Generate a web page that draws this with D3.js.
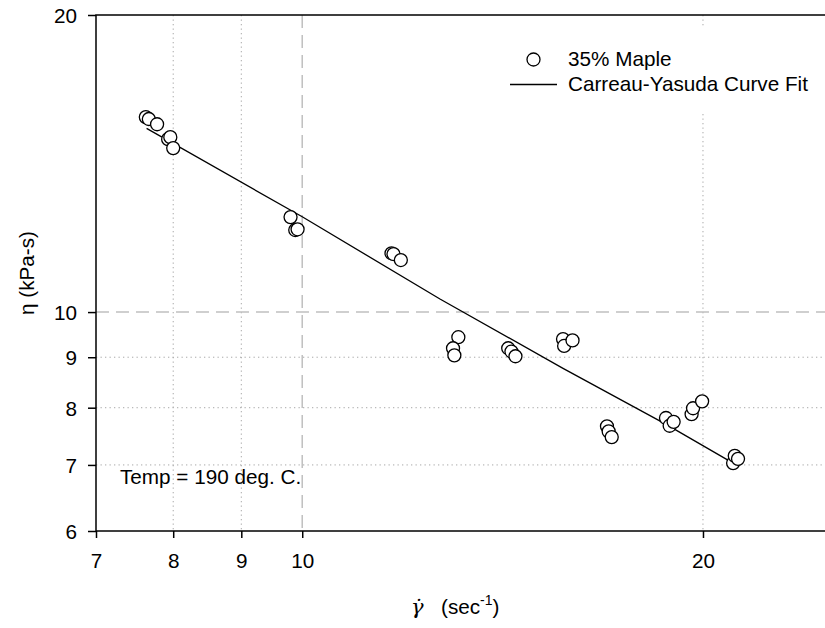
<!DOCTYPE html>
<html>
<head>
<meta charset="utf-8">
<script src="https://cdn.jsdelivr.net/npm/d3@7"></script>
<style>
  body { margin: 0; background: #fff; }
  svg { display: block; font-family: "Liberation Sans", Arial, sans-serif; }
</style>
</head>
<body>
<svg id="chart" width="825" height="628"></svg>
<script>
// measured points, 35% maple at 190 C
var shearRate = [7.63, 7.67, 7.78, 7.93, 7.96, 8.00,
  9.80, 9.88, 9.92,
  11.67, 11.71, 11.86,
  13.10, 12.98, 13.01,
  14.28, 14.36, 14.46,
  15.70, 15.73, 15.96,
  16.94, 16.99, 17.08,
  18.76, 18.88, 19.01,
  19.61, 19.66, 19.97,
  21.07, 21.13, 21.25];
var viscosity = [15.76, 15.69, 15.50, 14.97, 15.04, 14.66,
  12.48, 12.11, 12.13,
  11.47, 11.45, 11.29,
  9.43, 9.19, 9.04,
  9.19, 9.12, 9.02,
  9.39, 9.24, 9.36,
  7.66, 7.57, 7.47,
  7.81, 7.67, 7.74,
  7.88, 7.99, 8.12,
  7.03, 7.15, 7.10];

// Carreau-Yasuda fit
var fitRate = [7.64, 10.0, 12.69, 15.70, 18.78, 21.07];
var fitVisc = [15.35, 12.49, 10.31, 8.77, 7.69, 7.03];

var xTicks = [7, 8, 9, 10, 20];
var yTicks = [6, 7, 8, 9, 10, 20];
var xDotted = [8, 9, 20];
var yDotted = [7, 8, 9];

var legendLabels = ["35% Maple", "Carreau-Yasuda Curve Fit"];
var note = "Temp = 190 deg. C.";

var FS = 20.7;
var m = {left: 96, top: 15, right: 832, bottom: 531};
var svg = d3.select("#chart");

var x = d3.scaleLog().domain([7, 25]).range([m.left, m.right]);
var y = d3.scaleLog().domain([6, 20]).range([m.bottom, m.top]);

// grid
var grid = svg.append("g");
grid.selectAll(".gx").data(xDotted).enter().append("line")
  .attr("x1", d => x(d)).attr("x2", d => x(d)).attr("y1", m.top).attr("y2", m.bottom)
  .attr("stroke", "#a8a8a8").attr("stroke-width", 1).attr("stroke-dasharray", "1.3,3.2");
grid.selectAll(".gy").data(yDotted).enter().append("line")
  .attr("y1", d => y(d)).attr("y2", d => y(d)).attr("x1", m.left).attr("x2", m.right)
  .attr("stroke", "#a8a8a8").attr("stroke-width", 1).attr("stroke-dasharray", "1.3,3.2");
grid.append("line")
  .attr("x1", x(10)).attr("x2", x(10)).attr("y1", m.top).attr("y2", m.bottom)
  .attr("stroke", "#c0c0c0").attr("stroke-width", 1.5).attr("stroke-dasharray", "13,7");
grid.append("line")
  .attr("y1", y(10)).attr("y2", y(10)).attr("x1", m.left).attr("x2", m.right)
  .attr("stroke", "#c0c0c0").attr("stroke-width", 1.5).attr("stroke-dasharray", "13,7");

// frame
svg.append("rect")
  .attr("x", m.left).attr("y", m.top)
  .attr("width", m.right - m.left).attr("height", m.bottom - m.top)
  .attr("fill", "none").attr("stroke", "#000").attr("stroke-width", 1.5);

// axes
var xAxis = svg.append("g").attr("transform", "translate(0," + m.bottom + ")")
  .call(d3.axisBottom(x).tickValues(xTicks).tickFormat(d3.format("d")).tickSize(7).tickSizeOuter(0));
var yAxis = svg.append("g").attr("transform", "translate(" + m.left + ",0)")
  .call(d3.axisLeft(y).tickValues(yTicks).tickFormat(d3.format("d")).tickSize(8).tickSizeOuter(0));
[xAxis, yAxis].forEach(function(a) {
  a.select(".domain").remove();
  a.selectAll("line").attr("stroke", "#000").attr("stroke-width", 1.5);
  a.selectAll("text").attr("font-family", "Liberation Sans, Arial, sans-serif")
    .attr("font-size", FS).attr("fill", "#000");
});
xAxis.selectAll("text").attr("dy", null).attr("y", 37);
yAxis.selectAll("text").attr("x", -19).attr("dy", "0.36em");

// fit curve
var line = d3.line().x(d => x(d[0])).y(d => y(d[1]));
svg.append("path")
  .datum(fitRate.map((r, i) => [r, fitVisc[i]]))
  .attr("d", line).attr("fill", "none").attr("stroke", "#000").attr("stroke-width", 1.3);

// points
svg.append("g").selectAll("circle")
  .data(shearRate.map((r, i) => [r, viscosity[i]]))
  .enter().append("circle")
  .attr("cx", d => x(d[0])).attr("cy", d => y(d[1])).attr("r", 6.5)
  .attr("fill", "#fff").attr("stroke", "#000").attr("stroke-width", 1.3);

// legend
var lg = svg.append("g");
lg.append("rect").attr("x", 500).attr("y", 28).attr("width", 315).attr("height", 85).attr("fill", "#fff");
lg.append("circle").attr("cx", 533.5).attr("cy", 59.5).attr("r", 6.5)
  .attr("fill", "#fff").attr("stroke", "#000").attr("stroke-width", 1.3);
lg.append("line").attr("x1", 510).attr("x2", 557).attr("y1", 84.5).attr("y2", 84.5)
  .attr("stroke", "#000").attr("stroke-width", 1.3);
lg.selectAll("text").data(legendLabels).enter().append("text")
  .attr("x", 568).attr("y", (d, i) => 66 + i * 24.7)
  .attr("font-size", FS).text(d => d);

// annotation
svg.append("text").attr("x", 120).attr("y", 484).attr("font-size", FS).text(note);

// axis titles
svg.append("text")
  .attr("transform", "translate(34," + ((m.top + m.bottom) / 2) + ") rotate(-90)")
  .attr("text-anchor", "middle").attr("font-size", FS).text("η (kPa-s)");

// gamma-dot (shear rate)
svg.append("text").attr("x", 411).attr("y", 614)
  .attr("font-family", "DejaVu Serif, serif").attr("font-style", "italic")
  .attr("font-size", 21).text("γ\u0307");

var xt = svg.append("text").attr("x", 441).attr("y", 614).attr("font-size", FS);
xt.append("tspan").text("(sec");
xt.append("tspan").attr("dy", -9).attr("font-size", 14).text("-1");
xt.append("tspan").attr("dy", 9).text(")");
</script>
</body>
</html>
